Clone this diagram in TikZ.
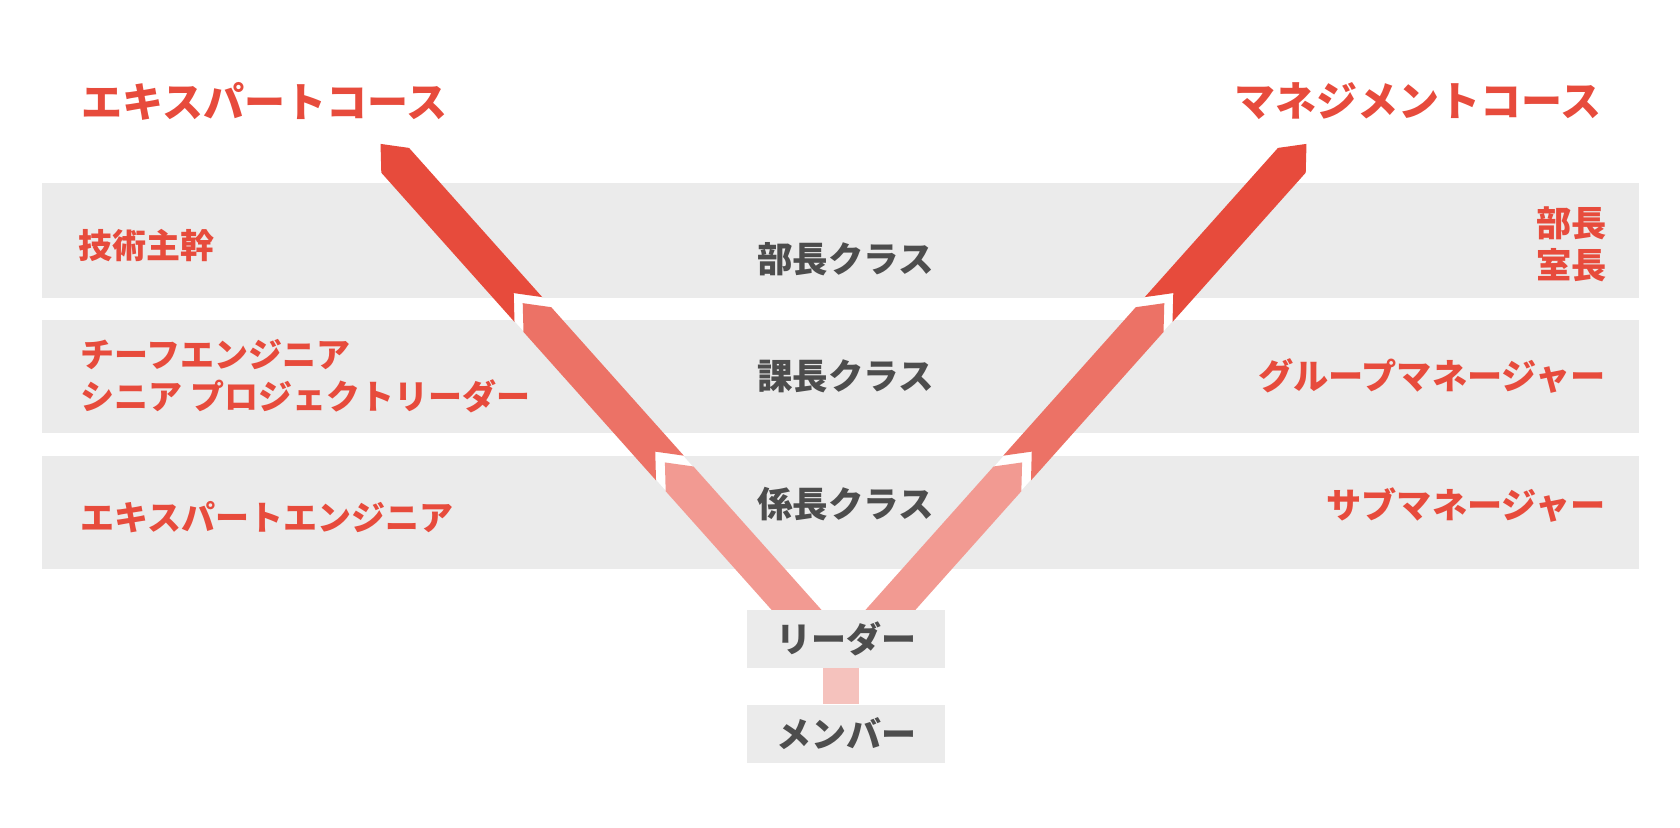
\documentclass[tikz,border=0pt]{standalone}
\usepackage{fontspec}
\newfontfamily\jpfont{Noto Sans CJK JP}
\usetikzlibrary{positioning}

\definecolor{corered}{HTML}{E74B3C}
\definecolor{segA}{HTML}{E74B3C}
\definecolor{segB}{HTML}{EC7266}
\definecolor{segC}{HTML}{F29A92}
\definecolor{linkpink}{HTML}{F5C2BD}
\definecolor{stripegray}{HTML}{EBEBEB}
\definecolor{textgray}{HTML}{4D4D4D}

\tikzset{
  course/.style={text=corered, inner sep=0, font=\jpfont\bfseries\fontsize{20.5}{24}\selectfont},
  post/.style={text=corered, inner sep=0, font=\jpfont\bfseries\fontsize{17}{21}\selectfont},
  mpost/.style={post, font=\jpfont\bfseries\fontsize{17.6}{21}\selectfont},
  grade/.style={text=textgray, inner sep=0, font=\jpfont\bfseries\fontsize{17.75}{21}\selectfont},
  rankbox/.style={fill=stripegray, text=textgray, inner sep=0, minimum width=99pt, minimum height=29pt,
    font=\jpfont\bfseries\fontsize{17.5}{21}\selectfont},
  link/.style={draw=linkpink, line width=18pt}
}

\begin{document}
\begin{tikzpicture}[x=0.5pt, y=-0.5pt]
    \useasboundingbox (0,0) rectangle (1680,828);

    \foreach \top/\bot in {183/298, 320/433, 456/569}
        \fill[stripegray] (42,\top) rectangle (1639,\bot);

    \foreach \m/\off in {1/0, -1/1687} {
        \begin{scope}[shift={(\off,0)}, xscale=\m]
        \begin{scope}[shift={(381.3,172.7)}, x={(0.333pt,-0.373pt)}, y={(0.373pt,0.333pt)}]
            \fill[white] (0,0.5) -- (640,0.5) -- (640,36.7) -- (0,36.7) -- cycle;
            \foreach \a/\b/\col in {0/200/segA, 213.5/412.5/segB, 427/640/segC}
                \fill[\col] (\a,0) -- (\a-22,18.6) -- (\a,37.2) -- (\b,37.2) -- (\b-22,18.6) -- (\b,0) -- cycle;
        \end{scope}
        \end{scope}
    }

    \node[course] (expert) at (264.5,101.5) {エキスパートコース};
    \node[course] (mgmt) at (1418,101.5) {マネジメントコース};

    \node[grade] (bucho) at (845.5,259) {部長クラス};
    \node[grade] (kacho) at (845.5,376.5) {課長クラス};
    \node[grade] (kakari) at (845.5,504) {係長クラス};

    \node[post, anchor=west] (shukan) at (78,245.5) {技術主幹};
    \node[post, anchor=west, align=left] (chief) at (80,376.5) {チーフエンジニア\\シニア プロジェクトリーダー};
    \node[post, anchor=west] (expeng) at (80,517.5) {エキスパートエンジニア};
    \node[mpost, anchor=east, align=right] (head) at (1607,244) {部長\\室長};
    \node[mpost, anchor=east] (gm) at (1606,376.5) {グループマネージャー};
    \node[mpost, anchor=east] (sm) at (1606,505) {サブマネージャー};

    \node[rankbox] (leader) at (846,639) {リーダー};
    \node[rankbox, below=18pt of leader] (member) {メンバー};
    \draw[link] ([xshift=-2.5pt]leader.south) -- ([xshift=-2.5pt]member.north);
\end{tikzpicture}
\end{document}
